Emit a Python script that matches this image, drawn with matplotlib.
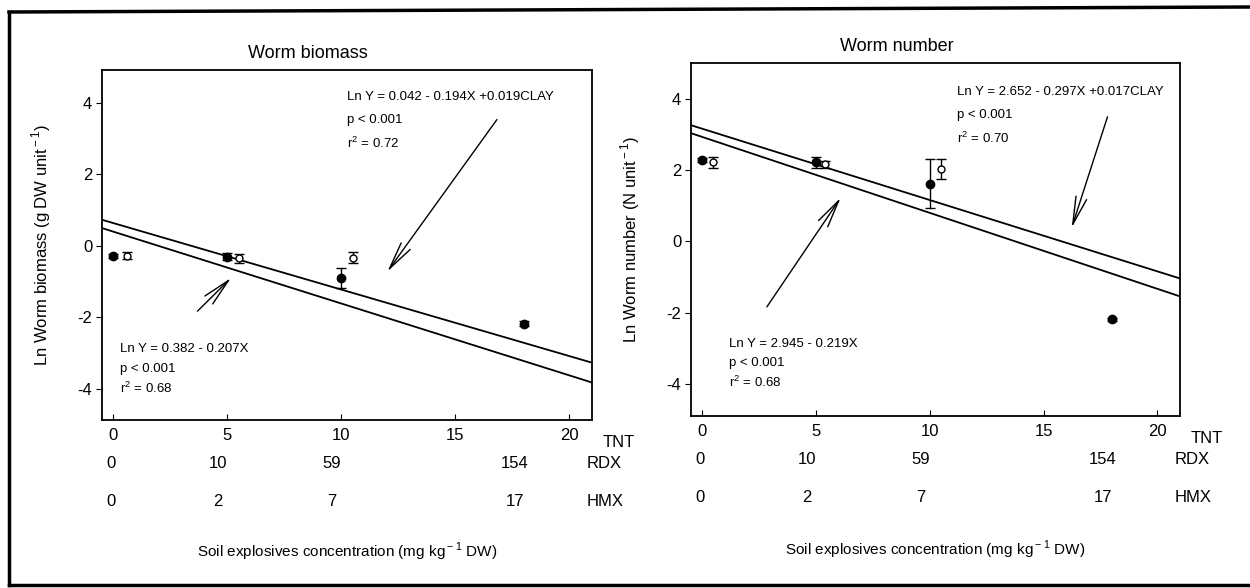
import numpy as np
import matplotlib
matplotlib.use('Agg')
import matplotlib.pyplot as plt
from matplotlib.lines import Line2D

plt.rcParams['font.family'] = ['Liberation Sans', 'DejaVu Sans']
plt.rcParams['axes.unicode_minus'] = False
plt.rcParams['mathtext.fontset'] = 'custom'
plt.rcParams['mathtext.rm'] = 'Liberation Sans'
NARROW = ['Liberation Sans Narrow', 'Liberation Sans', 'DejaVu Sans']

# --- Dados ---
tnt_levels = [0, 5, 10, 18]
rdx_labels = ['0', '10', '59', '154']
hmx_labels = ['0', '2', '7', '17']
xticks_tnt = [0, 5, 10, 15, 20]

# biomassa (ln g DW unit-1)
bio_filled_y = [-0.28, -0.30, -0.90, -2.18]
bio_filled_err = [0.05, 0.10, 0.27, 0.07]
bio_open_x = [0.6, 5.5, 10.5]
bio_open_y = [-0.27, -0.35, -0.33]
bio_open_err = [0.10, 0.12, 0.15]
bio_lines = [(0.64, -0.186), (0.40, -0.201)]   # (ordenada, declive) como desenhadas

# número (ln N unit-1)
num_filled_y = [2.28, 2.22, 1.62, -2.19]
num_filled_err = [0.05, 0.15, 0.68, 0.05]
num_open_x = [0.45, 5.4, 10.5]
num_open_y = [2.22, 2.16, 2.04]
num_open_err = [0.16, 0.10, 0.28]
num_lines = [(3.16, -0.200), (2.93, -0.213)]

bio_eq_top = ['Ln Y = 0.042 - 0.194X +0.019CLAY', 'p < 0.001', r'r$^{\rm 2}$ = 0.72']
bio_eq_bot = ['Ln Y = 0.382 - 0.207X', 'p < 0.001', r'r$^{\rm 2}$ = 0.68']
num_eq_top = ['Ln Y = 2.652 - 0.297X +0.017CLAY', 'p < 0.001', r'r$^{\rm 2}$ = 0.70']
num_eq_bot = ['Ln Y = 2.945 - 0.219X', 'p < 0.001', r'r$^{\rm 2}$ = 0.68']

fig = plt.figure(figsize=(12.5, 5.88), dpi=100)
ax1 = fig.add_axes([0.0816, 0.2857, 0.392, 0.595])
ax2 = fig.add_axes([0.5528, 0.2925, 0.3912, 0.600])


def draw_panel(ax, title, ylabel, f_y, f_err, o_x, o_y, o_err, lines,
               eq_top, eq_bot, top_pos, bot_pos, arr_top, arr_bot, ylim):
    x_line = np.array([-0.5, 21])
    for b0, b1 in lines:
        ax.plot(x_line, b0 + b1 * x_line, color='black', lw=1.3)

    ax.errorbar(tnt_levels, f_y, yerr=f_err, fmt='o', color='black', ms=6,
                capsize=3.5, elinewidth=1, capthick=1)
    ax.errorbar(o_x, o_y, yerr=o_err, fmt='o', mfc='white', mec='black', ecolor='black',
                ms=5, capsize=3.5, elinewidth=1, capthick=1)

    # equações
    for i, s in enumerate(eq_top):
        ax.text(top_pos[0], top_pos[1] - i * 0.65, s, fontsize=9.5, family=NARROW, va='center')
    for i, s in enumerate(eq_bot):
        ax.text(bot_pos[0], bot_pos[1] - i * 0.55, s, fontsize=9.5, family=NARROW, va='center')

    style = dict(arrowstyle='->,head_length=2.0,head_width=0.4', lw=1.0, color='black')
    ax.annotate('', xy=arr_top[1], xytext=arr_top[0], arrowprops=style)
    ax.annotate('', xy=arr_bot[1], xytext=arr_bot[0], arrowprops=style)

    ax.set_xlim(-0.5, 21)
    ax.set_ylim(*ylim)
    ax.set_xticks(xticks_tnt)
    ax.set_yticks([-4, -2, 0, 2, 4])
    ax.tick_params(axis='x', direction='in', length=4, labelsize=12, pad=6)
    ax.tick_params(axis='y', direction='out', length=4, labelsize=12, pad=3)
    for sp in ax.spines.values():
        sp.set_linewidth(1.3)

    ax.set_title(title, fontsize=13, x=0.42, pad=9)
    ax.set_ylabel(ylabel, fontsize=12)
    ax.yaxis.set_label_coords(-0.1, 0.5)

    # escalas RDX / HMX
    tr = ax.get_xaxis_transform()
    for x, r, h in zip(tnt_levels, rdx_labels, hmx_labels):
        xp = x - 0.4 if x > 0 else x - 0.1
        ax.text(xp, -0.123, r, transform=tr, fontsize=12, ha='center', va='center')
        ax.text(xp, -0.232, h, transform=tr, fontsize=12, ha='center', va='center')
    ax.text(1.022, -0.063, 'TNT', transform=ax.transAxes, fontsize=12, va='center')
    ax.text(0.99, -0.123, 'RDX', transform=ax.transAxes, fontsize=12, va='center')
    ax.text(0.99, -0.232, 'HMX', transform=ax.transAxes, fontsize=12, va='center')
    ax.text(0.5, -0.378, r'Soil explosives concentration (mg kg$^{\rm -1}$ DW)',
            transform=ax.transAxes, fontsize=11, ha='center', va='center')


draw_panel(ax1, 'Worm biomass', r'Ln Worm biomass (g DW unit$^{\rm -1}$)',
           bio_filled_y, bio_filled_err, bio_open_x, bio_open_y, bio_open_err, bio_lines,
           bio_eq_top, bio_eq_bot, (10.25, 4.17), (0.3, -2.88),
           ((16.9, 3.6), (11.95, -0.78)), ((3.6, -1.88), (5.25, -0.84)), (-4.87, 4.92))

draw_panel(ax2, 'Worm number', r'Ln Worm number (N unit$^{\rm -1}$)',
           num_filled_y, num_filled_err, num_open_x, num_open_y, num_open_err, num_lines,
           num_eq_top, num_eq_bot, (11.2, 4.19), (1.15, -2.87),
           ((17.85, 3.57), (16.2, 0.31)), ((2.77, -1.9), (6.15, 1.29)), (-4.9, 5.0))

# moldura exterior
for xs, ys in [((9 / 1250, 9 / 1250), (1 - 12 / 588, 1 - 585 / 588)),
               ((9 / 1250, 1.0), (1 - 12 / 588, 1 - 7 / 588)),
               ((9 / 1250, 1.0), (1 - 585 / 588, 1 - 585 / 588))]:
    fig.add_artist(Line2D(xs, ys, transform=fig.transFigure, color='black', lw=2.5))

fig.savefig('out.png', dpi=100)
